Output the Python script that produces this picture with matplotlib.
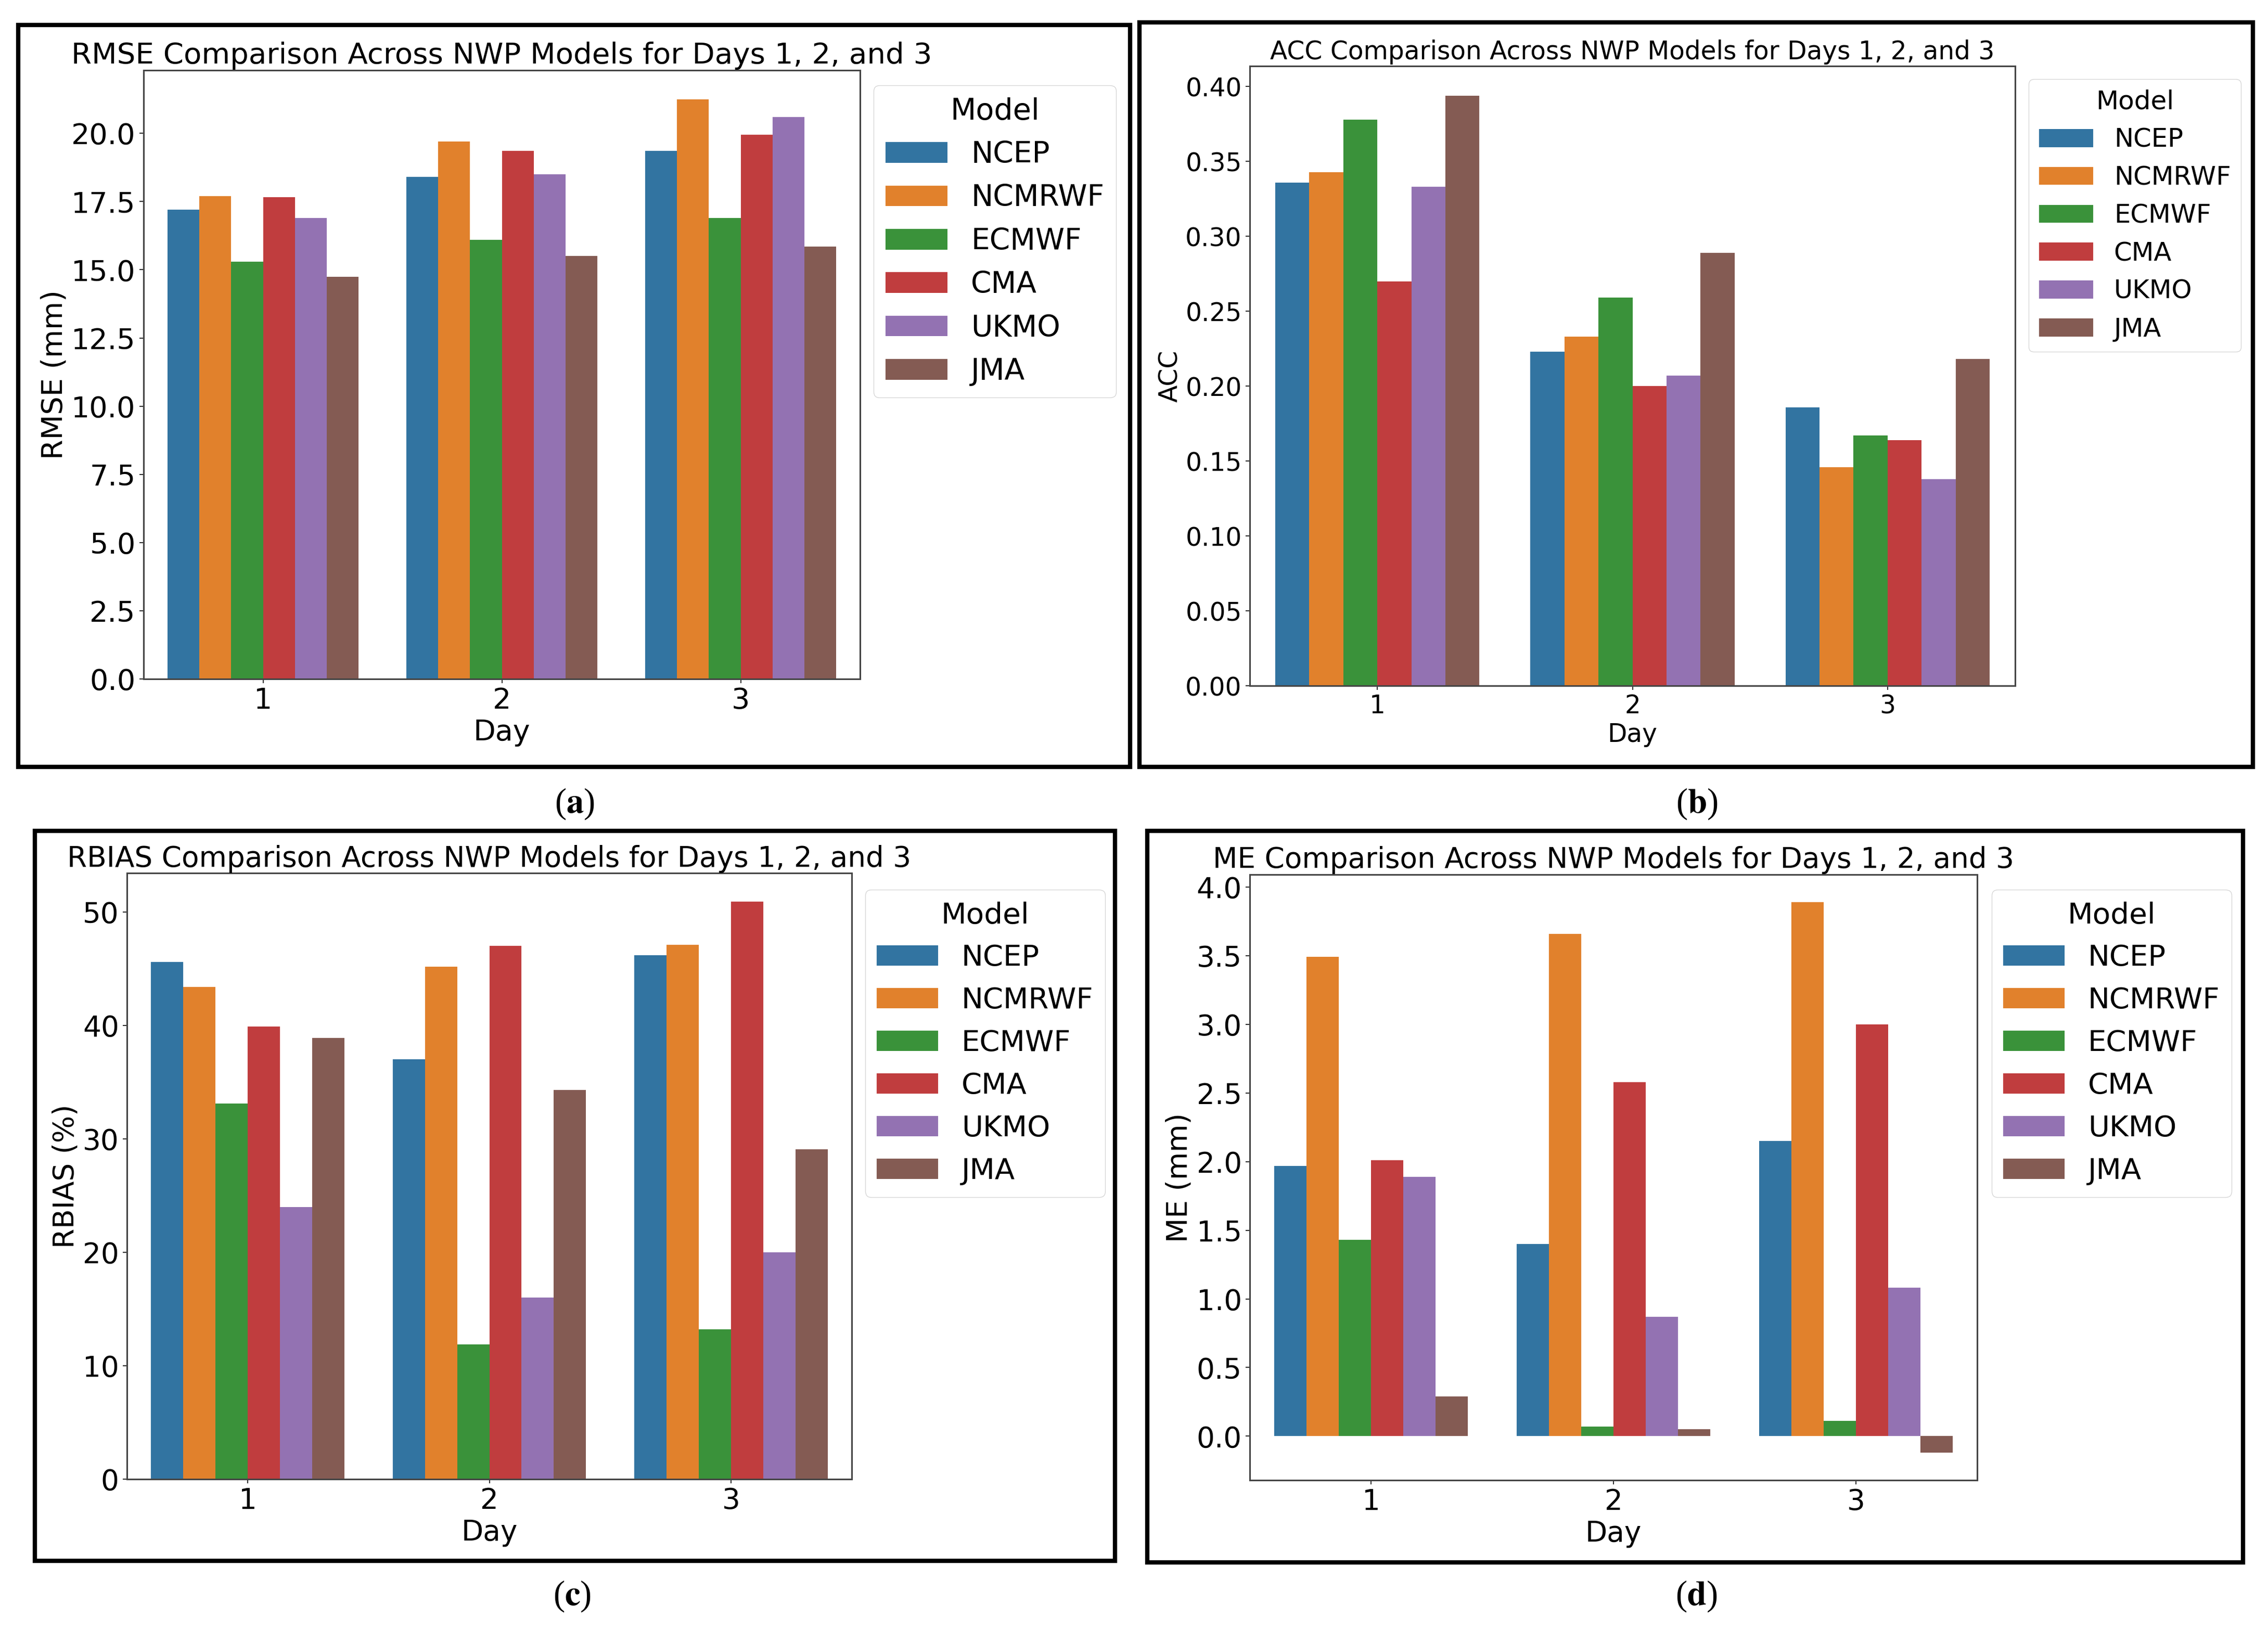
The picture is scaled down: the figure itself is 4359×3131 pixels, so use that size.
import numpy as np
import matplotlib
matplotlib.use('Agg')
import matplotlib.pyplot as plt
from matplotlib.patches import Rectangle

# ---- data ----
days = ['1', '2', '3']
models = ['NCEP', 'NCMRWF', 'ECMWF', 'CMA', 'UKMO', 'JMA']

# one row per model, columns = day 1, 2, 3
rmse = [[17.2, 18.4, 19.35],
        [17.7, 19.7, 21.25],
        [15.3, 16.1, 16.9],
        [17.65, 19.35, 19.95],
        [16.9, 18.5, 20.6],
        [14.75, 15.5, 15.85]]

acc = [[0.336, 0.223, 0.186],
       [0.343, 0.233, 0.146],
       [0.378, 0.259, 0.167],
       [0.270, 0.200, 0.164],
       [0.333, 0.207, 0.138],
       [0.394, 0.289, 0.218]]

rbias = [[45.6, 37.0, 46.2],
         [43.4, 45.2, 47.1],
         [33.1, 11.9, 13.2],
         [39.9, 47.0, 50.9],
         [24.0, 16.0, 20.0],
         [38.9, 34.3, 29.1]]

me = [[1.97, 1.40, 2.15],
      [3.49, 3.66, 3.89],
      [1.43, 0.07, 0.11],
      [2.01, 2.58, 3.00],
      [1.89, 0.87, 1.08],
      [0.29, 0.05, -0.12]]

colors = ['#3274a1', '#e1812c', '#3a923a', '#c03d3e', '#9372b2', '#845b53']

plt.rcParams['font.family'] = ['DejaVu Sans']
plt.rcParams['mathtext.fontset'] = 'stix'

W, H = 4359, 3131
fig = plt.figure(figsize=(W / 100, H / 100), dpi=100)
fig.patch.set_facecolor('white')


def fx(px):
    return px / W


def fy(py):
    return 1 - py / H


def draw_panel(box, values, ylabel, title, fs, tfs, leg_xy):
    left, right, top, bottom = box
    ax = fig.add_axes([fx(left), fy(bottom), fx(right) - fx(left), fy(top) - fy(bottom)])
    x = np.arange(len(days))
    bw = 0.8 / len(models)
    for i, m in enumerate(models):
        off = (i - (len(models) - 1) / 2) * bw
        ax.bar(x + off, values[i], width=bw, color=colors[i], label=m, linewidth=0)
    ax.set_xlim(-0.5, len(days) - 0.5)
    ax.set_xticks(x, days)
    ax.tick_params(labelsize=fs, length=6, width=1.5, color='#333333', pad=5)
    for s in ax.spines.values():
        s.set_color('#444444')
        s.set_linewidth(2.2)
    ax.set_xlabel('Day', fontsize=fs, labelpad=5)
    ax.set_ylabel(ylabel, fontsize=fs)
    ax.set_title(title, fontsize=tfs, pad=9)
    ax.legend(title='Model', loc='upper left', bbox_to_anchor=(fx(leg_xy[0]), fy(leg_xy[1])),
              bbox_transform=fig.transFigure, borderaxespad=0, fontsize=fs * 1.02,
              title_fontsize=fs * 1.03, handlelength=2.1)
    return ax


draw_panel((276, 1653, 135, 1305), rmse, 'RMSE (mm)',
           'RMSE Comparison Across NWP Models for Days 1, 2, and 3', 40, 40.5, (1679, 164))
draw_panel((2402, 3873, 127, 1318), acc, 'ACC',
           'ACC Comparison Across NWP Models for Days 1, 2, and 3', 35, 35, (3899, 152))
draw_panel((244, 1637, 1678, 2843), rbias, 'RBIAS (%)',
           'RBIAS Comparison Across NWP Models for Days 1, 2, and 3', 39.5, 39.5, (1663, 1710))
draw_panel((2402, 3800, 1681, 2845), me, 'ME (mm)',
           'ME Comparison Across NWP Models for Days 1, 2, and 3', 39.5, 39.5, (3828, 1710))

# black frames around each panel
frames = [(35, 48, 2172, 1474), (2190, 43, 4330, 1474),
          (67, 1597, 2143, 3000), (2205, 1597, 4311, 3003)]
for x0, y0, x1, y1 in frames:
    fig.patches.append(Rectangle((fx(x0), fy(y1)), fx(x1) - fx(x0), fy(y0) - fy(y1),
                                 transform=fig.transFigure, fill=False,
                                 linewidth=6, edgecolor='black'))

panel_labels = [('a', 1104, 1545), ('b', 3261, 1545), ('c', 1100, 3068), ('d', 3260, 3068)]
for lab, px, py in panel_labels:
    fig.text(fx(px), fy(py), r'($\mathbf{' + lab + '}$)', ha='center', va='center',
             fontsize=48, family='Liberation Serif')

fig.savefig('out.png', dpi=100)
